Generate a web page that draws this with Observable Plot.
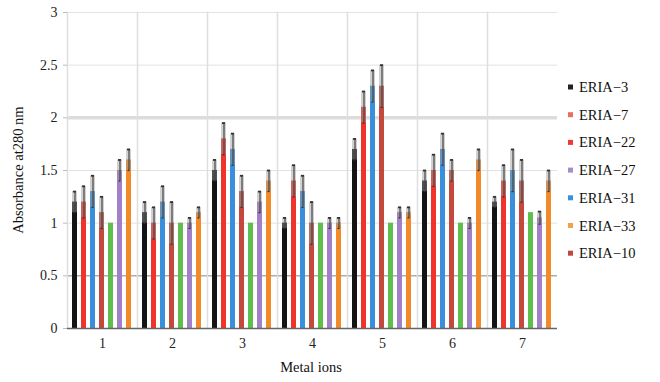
<!DOCTYPE html>
<html><head><meta charset="utf-8">
<script src="https://cdn.jsdelivr.net/npm/d3@7"></script>
<script src="https://cdn.jsdelivr.net/npm/@observablehq/plot@0.6"></script>
<style>
body{margin:0;background:#fff}
#wrap{position:relative;width:660px;height:382px}
</style>
</head><body><div id="wrap"></div>
<script>
const ions = ["1","2","3","4","5","6","7"];
const series = ["ERIA-3","ERIA-7","ERIA-31","ERIA-10","ERIA-22","ERIA-27","ERIA-33"];
const barColors = ["#141414","#f0342c","#3a8fdc","#c5483c","#5fbf4c","#a27fc9","#f28a2a"];
const eria3  = [1.2,1.1,1.5,1.0,1.7,1.4,1.2];
const eria7  = [1.2,1.0,1.8,1.4,2.1,1.5,1.4];
const eria31 = [1.3,1.2,1.7,1.3,2.3,1.7,1.5];
const eria10 = [1.1,1.0,1.3,1.0,2.3,1.5,1.4];
const eria22 = [1.0,1.0,1.0,1.0,1.0,1.0,1.1];
const eria27 = [1.5,1.0,1.2,1.0,1.1,1.0,1.05];
const eria33 = [1.6,1.1,1.4,1.0,1.1,1.6,1.4];
const err3  = [0.1,0.1,0.1,0.05,0.1,0.1,0.05];
const err7  = [0.15,0.15,0.15,0.15,0.15,0.15,0.15];
const err31 = [0.15,0.15,0.15,0.15,0.15,0.15,0.2];
const err10 = [0.15,0.2,0.15,0.2,0.2,0.1,0.2];
const err22 = [0,0,0,0,0,0,0];
const err27 = [0.1,0.05,0.1,0.05,0.05,0.05,0.06];
const err33 = [0.1,0.05,0.1,0.05,0.05,0.1,0.1];
const legendNames = ["ERIA\u22123","ERIA\u22127","ERIA\u221222","ERIA\u221227","ERIA\u221231","ERIA\u221233","ERIA\u221210"];
const legendColors = ["#222","#e8705a","#f03a30","#a68cc8","#3a90e0","#f5a04a","#c0483c"];
const yTicks = [0,0.5,1,1.5,2,2.5,3];

const vals = [eria3,eria7,eria31,eria10,eria22,eria27,eria33];
const errs = [err3,err7,err31,err10,err22,err27,err33];
const data = [];
series.forEach((s,i)=>ions.forEach((ion,j)=>data.push({ion, s, v: vals[i][j], e: errs[i][j]})));
const errData = data.filter(d=>d.e>0);

const serif = "'Liberation Serif', 'Times New Roman', Times, 'DejaVu Serif', serif";
const chart = Plot.plot({
  width: 660, height: 382,
  marginLeft: 65, marginRight: 102, marginTop: 12, marginBottom: 54,
  style: {fontFamily: serif, fontSize: "14px", color: "#222", background: "#fff"},
  fx: {domain: ions, padding: 0, label: null},
  x: {domain: series, padding: 0.4, paddingOuter: 0.4, axis: null},
  y: {domain: [0,3], label: null},
  color: {domain: series, range: barColors},
  marks: [
    Plot.ruleY(yTicks, {stroke: "#e2e2e2", strokeWidth: 1}),
    Plot.ruleY([2], {stroke: "#dcdcdc", strokeWidth: 3.5}),
    Plot.ruleY([0.5], {stroke: "#8f8f8f", strokeWidth: 1}),
    Plot.frame({anchor: "left", stroke: "#dedede", strokeWidth: 1.5}),
    Plot.barY(data, {fx: "ion", x: "s", y: "v", fill: "s"}),
    Plot.barY(errData, {fx: "ion", x: "s", y1: d=>d.v-d.e, y2: d=>d.v+d.e, fill: "#9a9a9a", fillOpacity: 0.45}),
    Plot.ruleX(errData, {fx: "ion", x: "s", y1: d=>d.v-d.e, y2: d=>d.v+d.e, stroke: "#444", strokeWidth: 1.2}),
    Plot.tickY(errData, {fx: "ion", x: "s", y: d=>d.v+d.e, stroke: "#333", strokeWidth: 1.8, insetLeft: 1, insetRight: 1}),
    Plot.tickY(errData, {fx: "ion", x: "s", y: d=>d.v-d.e, stroke: "#333", strokeWidth: 1.2, insetLeft: 1.5, insetRight: 1.5}),
    Plot.ruleY([0], {stroke: "#666", strokeWidth: 1.5}),
    Plot.axisY({ticks: yTicks, tickFormat: d=>String(d), tickSize: 4, stroke: "#bbb", fontSize: 14, fontFamily: serif, fill: "#222", tickPadding: 6, label: null}),
    Plot.axisFx({anchor: "bottom", tickSize: 0, tickPadding: 10, fontSize: 14, fontFamily: serif, fill: "#222", label: null})
  ]
});
const wrap = document.getElementById("wrap");
wrap.appendChild(chart);
const svg = d3.select(chart);
svg.append("text").attr("x", 311).attr("y", 372).attr("text-anchor","middle")
  .style("font-family", serif).attr("font-size", 14.5).attr("fill","#111").text("Metal ions");
svg.append("text").attr("transform","translate(23,170) rotate(-90)").attr("text-anchor","middle")
  .style("font-family", serif).attr("font-size", 14.5).attr("fill","#111").text("Absorbance at280 nm");
const lg = svg.append("g").attr("transform","translate(568,87)");
legendNames.forEach((n,i)=>{
  const y = i*27.7;
  lg.append("rect").attr("x",0).attr("y",y-2.5).attr("width",5).attr("height",5).attr("fill",legendColors[i]);
  lg.append("text").attr("x",11).attr("y",y).attr("dy","0.35em").attr("text-anchor","start")
    .style("font-family",serif).attr("font-size",14.5).attr("fill","#111").text(n);
});
</script></body></html>
